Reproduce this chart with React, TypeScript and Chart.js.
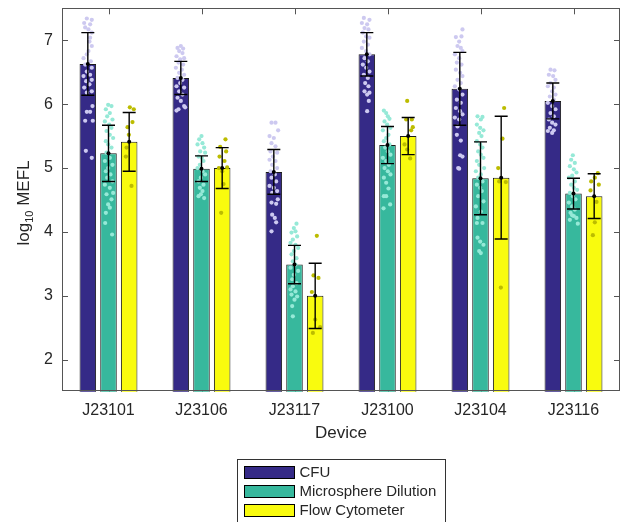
import React, { useEffect, useRef } from 'react';
import { Chart, registerables } from 'chart.js';

Chart.register(...registerables);

const devices = ['J23101', 'J23106', 'J23117', 'J23100', 'J23104', 'J23116'];
const seriesNames = ['CFU', 'Microsphere Dilution', 'Flow Cytometer'];
const yTicks = [2, 3, 4, 5, 6, 7];

const cfuMean = [6.63, 6.41, 4.94, 6.78, 6.24, 6.05];
const msMean = [5.23, 4.99, 3.49, 5.36, 4.84, 4.6];
const fcMean = [5.41, 5.0, 3.0, 5.5, 4.85, 4.56];

const cfuSd = [0.49, 0.26, 0.35, 0.34, 0.57, 0.28];
const msSd = [0.44, 0.2, 0.3, 0.29, 0.57, 0.24];
const fcSd = [0.46, 0.32, 0.51, 0.29, 0.96, 0.35];

// individual replicates per device: [jitter (fraction of half bar width), log10 value]
const cfuPts = [
  [[-0.12,7.34],[0.48,7.32],[-0.44,7.27],[0.28,7.25],[-0.32,7.2],[0.08,7.17],[0.48,7.12],[0.28,7.04],[0.2,6.98],[0.48,6.91],[0.08,6.83],[-0.12,6.78],[-0.52,6.72],[0.36,6.67],[-0.32,6.62],[0.48,6.57],[-0.12,6.51],[0.28,6.46],[-0.52,6.44],[0.48,6.38],[-0.2,6.36],[0.2,6.31],[-0.44,6.26],[0.48,6.2],[-0.12,6.18],[0.56,5.97],[-0.12,5.88],[0.28,5.88],[-0.32,5.74],[0.6,5.74],[-0.24,5.27],[0.48,5.16]],
  [[0,6.91],[-0.4,6.88],[0.28,6.87],[-0.2,6.83],[0.2,6.8],[-0.52,6.75],[0.4,6.72],[-0.08,6.7],[-0.28,6.65],[0.28,6.62],[-0.6,6.57],[0.12,6.54],[-0.2,6.49],[0.4,6.46],[-0.4,6.41],[0.2,6.38],[-0.08,6.33],[-0.52,6.28],[0.4,6.26],[-0.2,6.2],[0.2,6.15],[-0.4,6.1],[0,6.05],[0.52,5.95],[0.4,5.97],[-0.28,5.92],[-0.52,5.9]],
  [[-0.28,5.71],[0.2,5.71],[0.52,5.59],[-0.52,5.5],[0,5.47],[-0.28,5.39],[0.2,5.34],[-0.4,5.26],[0.4,5.24],[-0.12,5.18],[-0.52,5.13],[0.2,5.11],[-0.2,5.05],[0.4,5.0],[-0.4,4.95],[0.12,4.9],[-0.28,4.85],[0.28,4.79],[-0.52,4.72],[0,4.69],[0.4,4.64],[-0.2,4.61],[0.48,4.51],[0.28,4.44],[-0.28,4.46],[-0.2,4.27],[0.12,4.22],[0.28,4.15],[-0.28,4.01]],
  [[-0.36,7.35],[0.32,7.32],[-0.6,7.27],[0.04,7.25],[-0.28,7.19],[0.2,7.17],[-0.48,7.12],[-0.08,7.06],[0.32,7.04],[-0.36,6.98],[0.12,6.93],[-0.6,6.88],[-0.08,6.83],[0.32,6.78],[-0.28,6.72],[0.12,6.67],[-0.48,6.62],[-0.08,6.57],[0.32,6.51],[-0.36,6.46],[0.12,6.41],[-0.2,6.33],[0.2,6.28],[-0.28,6.2],[0.32,6.18],[0.04,6.15],[0.24,6.05],[0.04,5.89]],
  [[0.32,7.17],[-0.48,7.05],[0.2,7.06],[-0.08,6.98],[-0.28,6.91],[0.12,6.88],[0.32,6.83],[-0.6,6.78],[-0.08,6.72],[-0.36,6.65],[0.2,6.62],[-0.48,6.54],[0.04,6.49],[0.32,6.44],[-0.28,6.38],[0.12,6.33],[-0.6,6.28],[-0.08,6.23],[0.32,6.15],[-0.36,6.07],[0.12,6.02],[-0.48,5.94],[0.04,5.89],[0.32,5.84],[-0.6,5.79],[-0.08,5.76],[-0.28,5.65],[-0.36,5.52],[0.12,5.43],[0.04,5.2],[0.32,5.18],[-0.2,5.0],[-0.08,4.99]],
  [[-0.28,6.54],[0.2,6.53],[-0.48,6.46],[0.04,6.44],[0.32,6.38],[-0.28,6.33],[-0.6,6.28],[0.12,6.26],[-0.08,6.2],[0.32,6.15],[-0.36,6.12],[0.12,6.07],[-0.6,6.02],[-0.08,5.97],[0.32,5.92],[-0.28,5.86],[0.12,5.81],[-0.48,5.76],[-0.08,5.71],[0.32,5.68],[-0.36,5.63],[0.12,5.59],[-0.6,5.58],[-0.08,5.55]],
];

const msPts = [
  [[-0.04,5.99],[0.36,5.97],[-0.32,5.92],[0.16,5.86],[-0.16,5.81],[0.48,5.76],[-0.44,5.73],[0.08,5.68],[0.36,5.63],[-0.24,5.58],[0.16,5.52],[0.56,5.47],[-0.32,5.42],[-0.04,5.37],[0.36,5.32],[-0.24,5.24],[0.16,5.16],[-0.44,5.11],[0.48,5.05],[-0.04,5.0],[-0.32,4.95],[0.24,4.9],[-0.16,4.85],[0.48,4.79],[-0.44,4.74],[0.16,4.69],[0.56,4.61],[-0.24,4.59],[0.36,4.51],[-0.04,4.43],[0.16,4.38],[-0.32,4.3],[-0.4,4.14],[0.44,3.96]],
  [[0,5.5],[-0.28,5.45],[0.12,5.39],[-0.48,5.37],[0.32,5.32],[-0.16,5.26],[0.44,5.24],[-0.36,5.18],[0.04,5.16],[0.24,5.11],[-0.2,5.05],[-0.48,5.0],[0.12,4.95],[0.44,4.9],[-0.08,4.85],[-0.36,4.79],[0.24,4.74],[-0.2,4.69],[0.12,4.64],[-0.08,4.59],[0.32,4.53],[-0.36,4.56]],
  [[0.24,4.13],[-0.08,4.06],[0.12,4.01],[-0.36,3.99],[0.32,3.93],[-0.2,3.88],[-0.48,3.83],[0.12,3.8],[0.44,3.75],[-0.08,3.7],[-0.36,3.65],[0.24,3.59],[-0.2,3.54],[0.12,3.49],[-0.48,3.44],[0.44,3.39],[-0.08,3.33],[-0.28,3.26],[0.24,3.2],[-0.2,3.15],[0.12,3.07],[-0.36,3.02],[0,2.94],[-0.28,2.84],[-0.2,2.68],[0.32,2.99],[-0.48,3.1]],
  [[-0.44,5.9],[-0.16,5.86],[0.04,5.81],[0.24,5.77],[-0.36,5.73],[-0.04,5.68],[0.36,5.63],[-0.56,5.59],[0.12,5.52],[-0.16,5.47],[-0.44,5.42],[0.24,5.37],[-0.28,5.32],[0.04,5.26],[0.36,5.21],[-0.56,5.16],[-0.16,5.11],[0.16,5.05],[-0.36,5.0],[0.04,4.95],[0.36,4.9],[-0.44,4.85],[-0.16,4.77],[0.12,4.68],[-0.44,4.56],[-0.16,4.56],[0.32,4.43],[-0.48,4.37]],
  [[-0.36,5.81],[0.24,5.8],[0.04,5.76],[-0.44,5.68],[-0.04,5.63],[0.36,5.59],[-0.16,5.55],[0.12,5.5],[-0.44,5.42],[-0.04,5.37],[0.24,5.32],[-0.28,5.26],[0.04,5.21],[0.36,5.16],[-0.44,5.11],[-0.16,5.05],[0.44,5.0],[-0.56,4.95],[0.04,4.9],[-0.28,4.85],[0.24,4.79],[-0.44,4.74],[-0.04,4.69],[0.16,4.64],[-0.28,4.56],[0.36,4.48],[-0.56,4.4],[0.04,4.32],[-0.36,4.22],[0.24,4.14],[-0.44,4.14],[-0.36,3.91],[-0.04,3.85],[0.36,3.8],[-0.16,3.7],[0.04,3.67]],
  [[-0.08,5.2],[-0.28,5.13],[0.16,5.08],[-0.44,5.03],[0.04,4.98],[0.36,4.93],[-0.16,4.88],[-0.56,4.85],[0.16,4.79],[-0.28,4.74],[0.04,4.69],[0.44,4.66],[-0.44,4.61],[-0.08,4.56],[0.24,4.51],[-0.56,4.46],[-0.16,4.4],[0.16,4.35],[-0.36,4.3],[0.04,4.25],[0.36,4.22],[0.52,4.13],[-0.44,4.19],[-0.16,4.26]],
];

const fcPts = [
  [[0.08,5.95],[0.56,5.92],[0.4,5.72],[-0.2,5.64],[-0.04,5.52],[-0.32,5.32],[-0.4,5.18],[0.28,4.72]],
  [[0.4,5.45],[-0.24,5.33],[0.48,5.26],[-0.32,5.18],[0.28,5.11],[-0.4,5.0],[0.6,5.01],[0,4.95],[0.16,4.75],[-0.12,4.3]],
  [[0.2,3.94],[-0.2,3.32],[0.4,3.28],[-0.4,3.06],[0,2.63],[0.6,2.51],[-0.28,2.42]],
  [[-0.12,6.05],[-0.24,5.76],[0.44,5.76],[0.56,5.64],[0.36,5.59],[-0.44,5.37],[-0.12,5.29],[0.24,5.15]],
  [[0.36,5.94],[0.16,5.46],[-0.36,5.0],[-0.24,4.79],[0.56,4.78],[-0.04,3.13]],
  [[0.44,4.92],[0.08,4.85],[-0.36,4.79],[0.56,4.74],[-0.44,4.65],[0.28,4.47],[0.08,4.15],[-0.16,3.95]],
];

const barColors = ['#352A87', '#37B89D', '#F9FB0E'];
const pointColors = ['rgb(205,201,240)', 'rgb(150,233,215)', 'rgb(188,188,0)'];

const means = [cfuMean, msMean, fcMean];
const sds = [cfuSd, msSd, fcSd];
const points = [cfuPts, msPts, fcPts];

const FONT = '"Liberation Sans", Arial, Helvetica, sans-serif';
const TEXT = '#262626';

const CAT_PCT = 0.667;
const BAR_PCT = 0.8;
const SLOT = CAT_PCT / 3;
const HALF_BAR = (SLOT * BAR_PCT) / 2;

const decorations = {
  id: 'decorations',
  beforeDatasetsDraw(chart: any) {
    const { ctx, chartArea: a, scales } = chart;
    ctx.save();
    ctx.strokeStyle = '#555';
    ctx.lineWidth = 1;
    const ys = scales.y;
    yTicks.forEach((v) => {
      const py = Math.round(ys.getPixelForValue(v)) + 0.5;
      ctx.beginPath();
      ctx.moveTo(a.left, py); ctx.lineTo(a.left + 6, py);
      ctx.moveTo(a.right - 6, py); ctx.lineTo(a.right, py);
      ctx.stroke();
    });
    const xs = scales.x;
    devices.forEach((_, i) => {
      const px = Math.round(xs.getPixelForValue(i)) + 0.5;
      ctx.beginPath();
      ctx.moveTo(px, a.top); ctx.lineTo(px, a.top + 6);
      ctx.moveTo(px, a.bottom - 6); ctx.lineTo(px, a.bottom);
      ctx.stroke();
    });
    ctx.restore();
  },
  afterDatasetsDraw(chart: any) {
    const { ctx, chartArea: a, scales } = chart;
    const ys = scales.y;
    ctx.save();
    ctx.beginPath();
    ctx.rect(a.left, a.top, a.right - a.left, a.bottom - a.top);
    ctx.clip();
    ctx.strokeStyle = '#000';
    ctx.fillStyle = '#000';
    ctx.lineWidth = 1.4;
    for (let k = 0; k < 3; k++) {
      const meta = chart.getDatasetMeta(k);
      meta.data.forEach((el: any, i: number) => {
        const x = el.x;
        const m = means[k][i];
        const s = sds[k][i];
        const yt = ys.getPixelForValue(m + s);
        const yb = ys.getPixelForValue(m - s);
        const ym = ys.getPixelForValue(m);
        ctx.beginPath();
        ctx.moveTo(x, yt); ctx.lineTo(x, yb);
        ctx.moveTo(x - 6.5, yt); ctx.lineTo(x + 6.5, yt);
        ctx.moveTo(x - 6.5, yb); ctx.lineTo(x + 6.5, yb);
        ctx.stroke();
        ctx.beginPath();
        ctx.arc(x, ym, 2, 0, Math.PI * 2);
        ctx.fill();
      });
    }
    ctx.restore();
    ctx.save();
    ctx.strokeStyle = '#555';
    ctx.lineWidth = 1;
    ctx.strokeRect(Math.round(a.left) + 0.5, Math.round(a.top) + 0.5, Math.round(a.right - a.left) - 1, Math.round(a.bottom - a.top) - 1);
    ctx.restore();
  },
  afterDraw(chart: any) {
    const { ctx, chartArea: a } = chart;
    ctx.save();
    ctx.fillStyle = TEXT;
    ctx.font = `17px ${FONT}`;
    ctx.textAlign = 'center';
    ctx.textBaseline = 'middle';
    ctx.fillText('Device', (a.left + a.right) / 2, 433.5);
    ctx.translate(23, (a.top + a.bottom) / 2 + 3);
    ctx.rotate(-Math.PI / 2);
    const big = `17px ${FONT}`;
    const small = `11px ${FONT}`;
    ctx.font = big;
    const w1 = ctx.measureText('log').width;
    const w3 = ctx.measureText(' MEFL').width;
    ctx.font = small;
    const w2 = ctx.measureText('10').width;
    const total = w1 + w2 + w3;
    let x = -total / 2;
    ctx.textAlign = 'left';
    ctx.textBaseline = 'alphabetic';
    ctx.font = big;
    ctx.fillText('log', x, 6);
    x += w1;
    ctx.font = small;
    ctx.fillText('10', x, 10);
    x += w2;
    ctx.font = big;
    ctx.fillText(' MEFL', x, 6);
    ctx.restore();

    ctx.save();
    const lw = 208;
    const lx = Math.round((a.left + a.right) / 2 - lw / 2) + 0.5;
    const ly = 459.5;
    ctx.fillStyle = '#fff';
    ctx.fillRect(lx, ly, lw, 70);
    ctx.strokeStyle = '#333';
    ctx.lineWidth = 1;
    ctx.strokeRect(lx, ly, lw, 70);
    ctx.font = `15px ${FONT}`;
    ctx.textBaseline = 'middle';
    ctx.textAlign = 'left';
    seriesNames.forEach((name, k) => {
      const ry = 466.5 + k * 19;
      ctx.fillStyle = barColors[k];
      ctx.fillRect(lx + 7, ry, 50, 12);
      ctx.strokeStyle = '#000';
      ctx.strokeRect(lx + 7, ry, 50, 12);
      ctx.fillStyle = TEXT;
      ctx.fillText(name, lx + 62, ry + 6.5);
    });
    ctx.restore();
  },
};

export default function App() {
  const ref = useRef<HTMLCanvasElement | null>(null);
  useEffect(() => {
    if (!ref.current) return;
    // bars placed on the numeric device axis at group index + series slot offset
    const barSets = seriesNames.map((name, k) => ({
      type: 'bar' as const,
      label: name,
      data: means[k].map((m, i) => ({ x: i + (k - 1) * SLOT, y: m })),
      backgroundColor: barColors[k],
      borderColor: '#1a1a1a',
      borderWidth: 1,
      grouped: false,
      categoryPercentage: 1,
      barPercentage: BAR_PCT,
      xAxisID: 'xs',
      yAxisID: 'y',
      order: 10,
    }));
    const ptSets = seriesNames.map((name, k) => ({
      type: 'scatter' as const,
      label: name + ' replicates',
      data: points[k].flatMap((grp, i) =>
        grp.map(([j, v]) => ({ x: i + (k - 1) * SLOT + j * HALF_BAR, y: v }))
      ),
      backgroundColor: pointColors[k],
      borderWidth: 0,
      pointRadius: 2.1,
      xAxisID: 'xs',
      yAxisID: 'y',
      order: 1,
    }));
    const chart = new Chart(ref.current, {
      type: 'scatter',
      data: { labels: devices, datasets: [...barSets, ...ptSets] as any },
      options: {
        responsive: false,
        animation: false,
        layout: { padding: { top: 8.3, right: 3.3, left: 0, bottom: 0 } },
        plugins: { legend: { display: false }, tooltip: { enabled: false } },
        scales: {
          x: {
            type: 'category',
            offset: true,
            grid: { display: false, drawTicks: false },
            border: { display: false },
            ticks: { font: { size: 16, family: FONT }, color: TEXT, padding: 9, maxRotation: 0 },
            afterFit: (s: any) => { s.height = 130.3; s.paddingLeft = 0; s.paddingRight = 0; },
          },
          xs: {
            type: 'linear',
            axis: 'x',
            display: false,
            offset: false,
            min: -0.5,
            max: devices.length - 0.5,
            ticks: { stepSize: 1 },
          },
          y: {
            type: 'linear',
            min: 1.5,
            max: 7.5,
            grid: { display: false, drawTicks: false },
            border: { display: false },
            afterBuildTicks: (s: any) => { s.ticks = yTicks.map((v) => ({ value: v })); },
            ticks: { font: { size: 16, family: FONT }, color: TEXT, padding: 9 },
            afterFit: (s: any) => { s.width = 62; s.paddingTop = 0; s.paddingBottom = 0; },
          },
        },
      } as any,
      plugins: [decorations],
    });
    return () => chart.destroy();
  }, []);
  return (
    <div style={{ position: 'fixed', left: 0, top: 0, width: 624, height: 522, background: '#fff' }}>
      <canvas ref={ref} width={624} height={522} style={{ display: 'block' }} />
    </div>
  );
}
